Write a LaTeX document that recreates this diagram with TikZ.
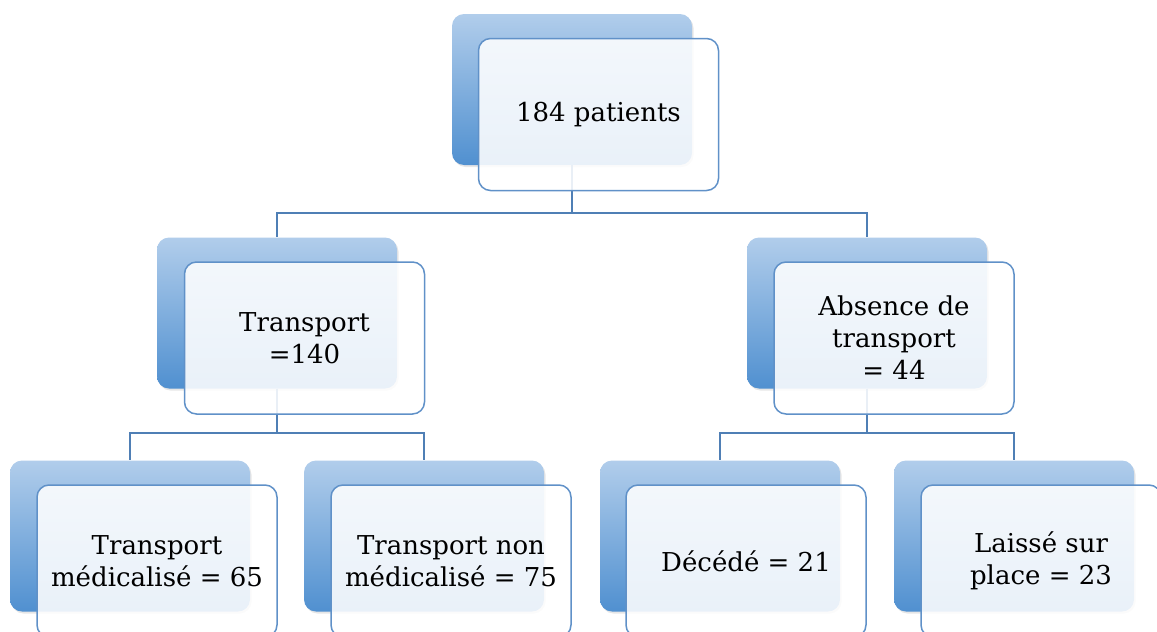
\documentclass[tikz,border=0pt]{standalone}
\usepackage{fontspec}
\setmainfont{DejaVu Serif}
\usetikzlibrary{shadows}
\definecolor{boxtop}{RGB}{177,205,235}
\definecolor{boxbot}{RGB}{80,144,208}
\definecolor{boxline}{RGB}{96,145,200}
\definecolor{linkcol}{RGB}{79,127,181}
\begin{document}
\begin{tikzpicture}[x=1pt,y=-1pt,back/.style={rectangle,rounded corners=12pt,minimum width=240pt,minimum height=151pt,top color=boxtop,bottom color=boxbot,drop shadow={opacity=0.2,shadow xshift=1.5pt,shadow yshift=-2pt}},front/.style={rectangle,rounded corners=12pt,draw=boxline,line width=1.5pt,fill=white,fill opacity=0.88,text opacity=1,minimum width=240pt,minimum height=152pt,align=center,font=\fontsize{26}{32}\selectfont},link/.style={draw=linkcol,line width=1.6pt}]
		\useasboundingbox (0,0) rectangle (1157,632);
		\clip (0,0) rectangle (1157,632);
		% back boxes
		\node (b0)[back] at (572,89.5){};
		\node (b1)[back] at (277,313){};
		\node (b2)[back] at (867,313){};
		\node (b3)[back] at (130,536){};
		\node (b4)[back] at (424,536){};
		\node (b5)[back] at (720,536){};
		\node (b6)[back] at (1014,536){};
		% links
		\draw[link] (b0.south) -- ++(0,48) -| (b1.north);
		\draw[link] (b0.south) -- ++(0,48) -| (b2.north);
		\draw[link] (b1.south) -- ++(0,44.5) -| (b3.north);
		\draw[link] (b1.south) -- ++(0,44.5) -| (b4.north);
		\draw[link] (b2.south) -- ++(0,44.5) -| (b5.north);
		\draw[link] (b2.south) -- ++(0,44.5) -| (b6.north);
		% front boxes
		\node (f0)[front] at (598.5,114.5){184 patients};
		\node (f1)[front] at (304.5,338){Transport\\ =140};
		\node (f2)[front] at (894,338){Absence de\\transport\\ = 44};
		\node (f3)[front] at (157,561){Transport\\médicalisé = 65};
		\node (f4)[front] at (451,561){Transport non\\médicalisé = 75};
		\node (f5)[front] at (746,561){Décédé = 21};
		\node (f6)[front] at (1041,561){Laissé sur\\place = 23};
\end{tikzpicture}
\end{document}
